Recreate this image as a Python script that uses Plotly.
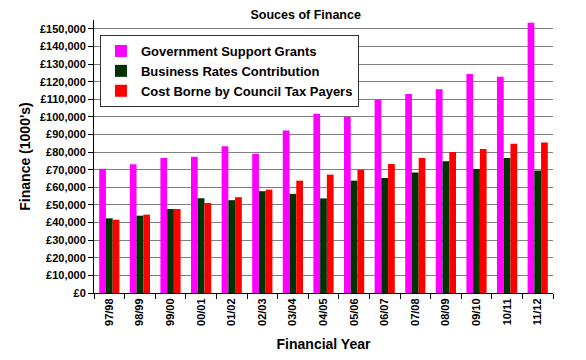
import plotly.graph_objects as go

years = ["97/98", "98/99", "99/00", "00/01", "01/02", "02/03", "03/04", "04/05",
         "05/06", "06/07", "07/08", "08/09", "09/10", "10/11", "11/12"]
gov_grants = [70500, 73100, 76700, 77300, 83300, 79000, 92200, 101800,
              100000, 109800, 113000, 115700, 124400, 122800, 153500]
business_rates = [42400, 43900, 47700, 53800, 52700, 57800, 56300, 53700,
                  63800, 65300, 68400, 74800, 70400, 76700, 69500]
council_tax = [41600, 44500, 47700, 51100, 54400, 58700, 63800, 67200,
               70000, 73300, 76700, 80000, 81800, 84700, 85400]
y_tick_values = list(range(0, 150001, 10000))
y_tick_labels = ["£{:,}".format(v) for v in y_tick_values]

FONT = "Liberation Sans, Arial, sans-serif"

fig = go.Figure()
fig.add_trace(go.Bar(x=years, y=gov_grants, name="<b>Government Support Grants</b>",
                     marker=dict(color="#FF00FF", line=dict(width=0))))
fig.add_trace(go.Bar(x=years, y=business_rates, name="<b>Business Rates Contribution</b>",
                     marker=dict(color="#003300", line=dict(width=0))))
fig.add_trace(go.Bar(x=years, y=council_tax, name="<b>Cost Borne by Council Tax Payers</b>",
                     marker=dict(color="#FF0000", line=dict(width=0))))

# page body has an 8px default margin, so the figure is laid out 8px up/left
fig.update_layout(
    width=586, height=360,
    margin=dict(l=86, r=41, t=12, b=75),
    paper_bgcolor="white", plot_bgcolor="white",
    barmode="group", bargap=0.34, bargroupgap=0,
    font=dict(family=FONT, color="black", size=11),
    title=dict(text="<b>Souces of Finance</b>", x=0.508, xanchor="center",
               y=0.981, yanchor="middle", font=dict(size=12.5, family=FONT)),
    legend=dict(x=0.013, y=0.945, xanchor="left", yanchor="top",
                bgcolor="white", bordercolor="#333333", borderwidth=1,
                font=dict(size=13, family=FONT), itemsizing="constant",
                tracegroupgap=0, itemwidth=30),
    showlegend=True,
)
fig.update_yaxes(
    range=[0, 155000], tickvals=y_tick_values,
    ticktext=["<b>" + t + "</b>" for t in y_tick_labels],
    showgrid=True, gridcolor="#808080", gridwidth=1,
    showline=True, linecolor="black", linewidth=1,
    ticks="outside", ticklen=5, tickcolor="black",
    tickfont=dict(size=11, family=FONT), automargin=False,
    title=dict(text="<b>Finance (1000's)</b>", font=dict(size=14, family=FONT), standoff=6),
    zeroline=False,
)
fig.update_xaxes(
    showline=True, linecolor="black", linewidth=1,
    ticks="outside", ticklen=5, tickcolor="black", tickson="boundaries",
    tickangle=-90, tickvals=years, ticktext=["<b>" + y + "</b>" for y in years],
    tickfont=dict(size=11, family=FONT), automargin=False,
    title=dict(text="<b>Financial Year</b>", font=dict(size=14, family=FONT), standoff=14),
)

fig.write_html("out.html")
